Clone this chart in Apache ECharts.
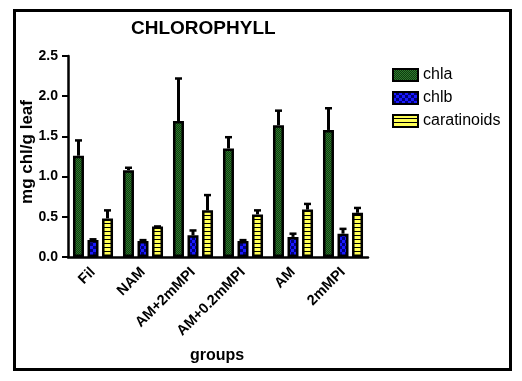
<!DOCTYPE html>
<html>
<head>
<meta charset="utf-8">
<script src="https://cdn.jsdelivr.net/npm/echarts@6/dist/echarts.min.js"></script>
<style>
html,body{margin:0;padding:0;background:#fff;}
#main{width:522px;height:381px;}
</style>
</head>
<body>
<div id="main"></div>
<script>
const categories = ['Fil', 'NAM', 'AM+2mMPI', 'AM+0.2mMPI', 'AM', '2mMPI'];
const chla = [1.26, 1.08, 1.69, 1.35, 1.64, 1.58];
const chlaErr = [0.19, 0.03, 0.53, 0.14, 0.18, 0.27];
const chlb = [0.21, 0.20, 0.27, 0.20, 0.25, 0.29];
const chlbErr = [0.01, 0.01, 0.06, 0.01, 0.04, 0.06];
const carat = [0.48, 0.38, 0.58, 0.53, 0.59, 0.55];
const caratErr = [0.10, 0.00, 0.19, 0.05, 0.07, 0.06];
const yTicks = [0, 0.5, 1.0, 1.5, 2.0, 2.5];

const FONT = '"Liberation Sans", Arial, sans-serif';

function checker(size, c1, c2) {
  const cv = document.createElement('canvas');
  cv.width = size * 2; cv.height = size * 2;
  const ctx = cv.getContext('2d');
  ctx.fillStyle = c1; ctx.fillRect(0, 0, size * 2, size * 2);
  ctx.fillStyle = c2;
  ctx.fillRect(0, 0, size, size);
  ctx.fillRect(size, size, size, size);
  return cv;
}
function stripes() {
  const cv = document.createElement('canvas');
  cv.width = 4; cv.height = 4;
  const ctx = cv.getContext('2d');
  ctx.fillStyle = '#ffff55'; ctx.fillRect(0, 0, 4, 4);
  ctx.fillStyle = '#000000'; ctx.fillRect(0, 3, 4, 1);
  return cv;
}
const patA = { image: checker(1, '#0e3a0e', '#2f7a2f'), repeat: 'repeat' };
const patB = { image: checker(3, '#00007a', '#1a1aff'), repeat: 'repeat' };
const patC = { image: stripes(), repeat: 'repeat' };

const BAR_W = 11;
const offsets = [-14.5, 0, 14.5];

function errSeries(vals, errs, k) {
  return {
    type: 'custom',
    silent: true,
    z: 3,
    data: vals.map((v, i) => [i, v, v + errs[i]]),
    renderItem: function (params, api) {
      const p0 = api.coord([api.value(0), api.value(1)]);
      const p1 = api.coord([api.value(0), api.value(2)]);
      const x = p0[0] + offsets[k];
      return {
        type: 'group',
        children: [
          { type: 'line', shape: { x1: x, y1: p0[1], x2: x, y2: p1[1] }, style: { stroke: '#000', lineWidth: 3 } },
          { type: 'line', shape: { x1: x - 3.5, y1: p1[1], x2: x + 3.5, y2: p1[1] }, style: { stroke: '#000', lineWidth: 2.5 } }
        ]
      };
    }
  };
}

const chart = echarts.init(document.getElementById('main'), null, { renderer: 'canvas' });
const barStyle = (pat) => ({ color: pat, borderColor: '#000', borderWidth: 2.5 });

chart.setOption({
  animation: false,
  backgroundColor: '#fff',
  textStyle: { fontFamily: FONT },
  title: {
    text: 'CHLOROPHYLL',
    left: 126, top: 14,
    textStyle: { fontFamily: FONT, fontSize: 19, fontWeight: 'bold', color: '#000' }
  },
  legend: {
    orient: 'vertical',
    left: 387, top: 62,
    itemWidth: 25, itemHeight: 12, itemGap: 7,
    icon: 'rect',
    textStyle: { fontFamily: FONT, fontSize: 16, color: '#000' },
    data: ['chla', 'chlb', 'caratinoids']
  },
  grid: { left: 68, top: 56, width: 300, height: 201, containLabel: false },
  xAxis: {
    type: 'category',
    data: categories,
    axisLine: { lineStyle: { color: '#000', width: 2.5 } },
    axisTick: { alignWithLabel: true, length: 6, lineStyle: { color: '#000', width: 2 } },
    axisLabel: { rotate: 45, interval: 0, margin: 13, fontFamily: FONT, fontSize: 14.5, fontWeight: 'bold', color: '#000' }
  },
  yAxis: {
    type: 'value',
    min: 0, max: 2.5, interval: 0.5,
    splitLine: { show: false },
    axisLine: { show: true, lineStyle: { color: '#000', width: 2.5 } },
    axisTick: { show: true, length: 6, lineStyle: { color: '#000', width: 2 } },
    axisLabel: { margin: 10, fontFamily: FONT, fontSize: 14, fontWeight: 'bold', color: '#000',
      formatter: (v) => yTicks.indexOf(v) >= 0 ? v.toFixed(1) : '' }
  },
  graphic: [
    { type: 'rect', shape: { x: 14.5, y: 10.5, width: 496, height: 359 }, style: { fill: null, stroke: '#000', lineWidth: 3 }, z: 100, silent: true },
    { type: 'text', x: 27, y: 152, rotation: Math.PI / 2, style: { text: 'mg chl/g leaf', font: 'bold 17px ' + FONT, fill: '#000', align: 'center', verticalAlign: 'middle' } },
    { type: 'text', x: 217, y: 356, style: { text: 'groups', font: 'bold 16px ' + FONT, fill: '#000', align: 'center', verticalAlign: 'middle' } }
  ],
  series: [
    { name: 'chla', type: 'bar', data: chla, barWidth: BAR_W, barGap: '32%', itemStyle: barStyle(patA) },
    { name: 'chlb', type: 'bar', data: chlb, barWidth: BAR_W, barGap: '32%', itemStyle: barStyle(patB) },
    { name: 'caratinoids', type: 'bar', data: carat, barWidth: BAR_W, barGap: '32%', itemStyle: barStyle(patC) },
    errSeries(chla, chlaErr, 0),
    errSeries(chlb, chlbErr, 1),
    errSeries(carat, caratErr, 2)
  ]
});
</script>
</body>
</html>
